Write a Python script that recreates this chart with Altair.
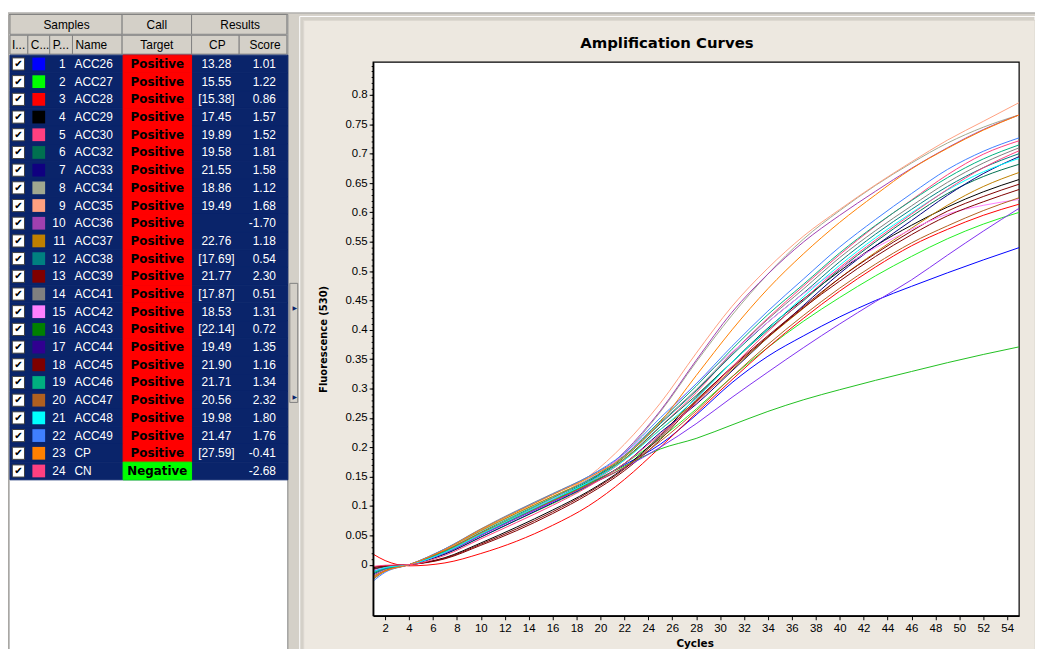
import altair as alt
import pandas as pd

# ---------------- data ----------------
cycles = [1, 2, 4, 7, 10, 13, 16, 19, 22, 25, 28, 31, 34, 37, 40, 43, 46, 49, 52, 55]
positions = list(range(1, 25))
names = ["ACC26", "ACC27", "ACC28", "ACC29", "ACC30", "ACC32", "ACC33", "ACC34",
         "ACC35", "ACC36", "ACC37", "ACC38", "ACC39", "ACC41", "ACC42", "ACC43",
         "ACC44", "ACC45", "ACC46", "ACC47", "ACC48", "ACC49", "CP", "CN"]
calls = ["Positive"] * 23 + ["Negative"]
cp_values = ["13.28", "15.55", "[15.38]", "17.45", "19.89", "19.58", "21.55", "18.86",
             "19.49", "", "22.76", "[17.69]", "21.77", "[17.87]", "18.53", "[22.14]",
             "19.49", "21.90", "21.71", "20.56", "19.98", "21.47", "[27.59]", ""]
scores = ["1.01", "1.22", "0.86", "1.57", "1.52", "1.81", "1.58", "1.12", "1.68", "-1.70",
          "1.18", "0.54", "2.30", "0.51", "1.31", "0.72", "1.35", "1.16", "1.34", "2.32",
          "1.80", "1.76", "-0.41", "-2.68"]
swatch_colors = ["#0000FF", "#00FF00", "#FF0000", "#000000", "#FF4080", "#007050", "#100080",
                 "#A0A890", "#FFA080", "#A040B0", "#C08000", "#008080", "#800000", "#808080",
                 "#FF80FF", "#008000", "#300090", "#7F0000", "#00B080", "#B06020", "#00FFFF",
                 "#4080FF", "#FF8000", "#FF4080"]
line_colors = ["#0000FF", "#22EE22", "#FF0000", "#000000", "#FF4080", "#007050", "#000080",
               "#A0A890", "#FFA080", "#A040B0", "#C08000", "#008080", "#800000", "#808080",
               "#FF80FF", "#20C020", "#8030F0", "#800000", "#00B080", "#B06020", "#00FFFF",
               "#4080FF", "#FF8000", "#FF4080"]

curves = [
    [-0.008, -0.004, 0, 0.020, 0.050, 0.080, 0.108, 0.137, 0.170, 0.205, 0.255, 0.310, 0.355, 0.390, 0.422, 0.450, 0.474, 0.497, 0.519, 0.540],
    [-0.012, -0.005, 0, 0.018, 0.047, 0.076, 0.104, 0.134, 0.172, 0.215, 0.265, 0.320, 0.370, 0.415, 0.455, 0.492, 0.525, 0.555, 0.580, 0.600],
    [0.018, 0.007, -0.002, 0.003, 0.019, 0.040, 0.067, 0.100, 0.145, 0.200, 0.258, 0.315, 0.370, 0.420, 0.466, 0.507, 0.543, 0.571, 0.595, 0.614],
    [-0.005, -0.002, 0, 0.012, 0.037, 0.064, 0.093, 0.125, 0.165, 0.220, 0.285, 0.345, 0.403, 0.453, 0.500, 0.543, 0.578, 0.609, 0.635, 0.656],
    [-0.012, -0.006, 0, 0.020, 0.050, 0.080, 0.108, 0.138, 0.178, 0.235, 0.293, 0.360, 0.420, 0.475, 0.528, 0.577, 0.621, 0.664, 0.699, 0.722],
    [-0.010, -0.005, 0, 0.020, 0.051, 0.081, 0.110, 0.140, 0.180, 0.235, 0.288, 0.345, 0.400, 0.450, 0.503, 0.550, 0.593, 0.632, 0.661, 0.682],
    [-0.016, -0.007, 0, 0.018, 0.047, 0.076, 0.105, 0.135, 0.172, 0.225, 0.273, 0.330, 0.387, 0.442, 0.496, 0.543, 0.586, 0.629, 0.666, 0.695],
    [-0.022, -0.010, 0, 0.024, 0.057, 0.087, 0.116, 0.146, 0.190, 0.260, 0.345, 0.425, 0.495, 0.555, 0.603, 0.646, 0.684, 0.718, 0.745, 0.766],
    [-0.010, -0.004, 0, 0.022, 0.053, 0.083, 0.113, 0.150, 0.205, 0.275, 0.360, 0.440, 0.505, 0.560, 0.605, 0.647, 0.686, 0.723, 0.755, 0.787],
    [-0.018, -0.008, 0, 0.020, 0.050, 0.079, 0.107, 0.140, 0.192, 0.262, 0.348, 0.430, 0.495, 0.550, 0.595, 0.636, 0.675, 0.710, 0.741, 0.766],
    [-0.025, -0.011, 0, 0.026, 0.058, 0.088, 0.116, 0.144, 0.180, 0.230, 0.278, 0.332, 0.387, 0.437, 0.488, 0.532, 0.573, 0.612, 0.644, 0.668],
    [-0.008, -0.004, 0, 0.021, 0.052, 0.083, 0.112, 0.142, 0.183, 0.240, 0.296, 0.357, 0.413, 0.463, 0.516, 0.563, 0.605, 0.644, 0.676, 0.700],
    [-0.004, -0.002, 0, 0.010, 0.033, 0.058, 0.087, 0.120, 0.160, 0.213, 0.278, 0.337, 0.390, 0.440, 0.488, 0.530, 0.568, 0.602, 0.627, 0.648],
    [-0.024, -0.011, 0, 0.027, 0.061, 0.092, 0.121, 0.150, 0.186, 0.242, 0.298, 0.360, 0.418, 0.470, 0.523, 0.569, 0.611, 0.651, 0.684, 0.710],
    [-0.010, -0.005, 0, 0.021, 0.052, 0.082, 0.112, 0.145, 0.188, 0.245, 0.308, 0.362, 0.413, 0.462, 0.504, 0.540, 0.571, 0.597, 0.612, 0.622],
    [-0.014, -0.006, 0, 0.022, 0.052, 0.081, 0.109, 0.138, 0.168, 0.197, 0.215, 0.238, 0.261, 0.281, 0.298, 0.314, 0.329, 0.344, 0.358, 0.371],
    [-0.012, -0.006, 0, 0.020, 0.050, 0.079, 0.107, 0.135, 0.165, 0.200, 0.240, 0.285, 0.328, 0.370, 0.410, 0.448, 0.485, 0.527, 0.568, 0.607],
    [-0.007, -0.003, 0, 0.011, 0.035, 0.061, 0.090, 0.123, 0.163, 0.217, 0.280, 0.335, 0.388, 0.438, 0.483, 0.525, 0.562, 0.594, 0.618, 0.639],
    [-0.015, -0.007, 0, 0.023, 0.055, 0.085, 0.114, 0.144, 0.185, 0.245, 0.304, 0.367, 0.426, 0.478, 0.531, 0.578, 0.620, 0.659, 0.691, 0.715],
    [-0.020, -0.010, 0, 0.024, 0.054, 0.082, 0.109, 0.136, 0.166, 0.210, 0.262, 0.320, 0.375, 0.425, 0.471, 0.512, 0.548, 0.577, 0.603, 0.625],
    [-0.012, -0.005, 0, 0.021, 0.052, 0.082, 0.111, 0.140, 0.178, 0.230, 0.283, 0.345, 0.402, 0.457, 0.510, 0.557, 0.599, 0.638, 0.669, 0.692],
    [-0.028, -0.013, 0, 0.027, 0.060, 0.091, 0.120, 0.150, 0.190, 0.250, 0.308, 0.372, 0.432, 0.487, 0.541, 0.588, 0.632, 0.673, 0.704, 0.727],
    [-0.022, -0.011, 0, 0.026, 0.060, 0.090, 0.119, 0.148, 0.184, 0.243, 0.322, 0.400, 0.470, 0.530, 0.583, 0.630, 0.674, 0.709, 0.740, 0.766],
    [-0.003, -0.001, 0, 0.016, 0.044, 0.072, 0.101, 0.133, 0.172, 0.222, 0.275, 0.337, 0.397, 0.452, 0.506, 0.553, 0.597, 0.639, 0.676, 0.705],
]

x_ticks = [2, 4, 6, 8, 10, 12, 14, 16, 18, 20, 22, 24, 26, 28, 30, 32, 34, 36, 38, 40,
           42, 44, 46, 48, 50, 52, 54]
y_ticks = [0, 0.05, 0.1, 0.15, 0.2, 0.25, 0.3, 0.35, 0.4, 0.45, 0.5, 0.55, 0.6, 0.65,
           0.7, 0.75, 0.8]
y_minor = [i / 100 for i in range(0, 86)]

# ---------------- layout helpers ----------------
W, H = 651, 558
OX, OY = 376, 60          # plot origin in screenshot coordinates
NAVY = "#0A246A"
GRAY = "#D4D0C8"
BEIGE = "#EDE8E0"


def px(x):
    return x - OX


def py(y):
    return y - OY


one = pd.DataFrame({"k": [0]})


def box(x1, y1, x2, y2, fill, stroke=None, sw=1.0):
    kw = {"fill": fill}
    if stroke:
        kw.update(stroke=stroke, strokeWidth=sw)
    else:
        kw.update(strokeWidth=0)
    return alt.Chart(one).mark_rect(**kw).encode(
        x=alt.value(px(x1)), x2=alt.value(px(x2)),
        y=alt.value(py(y1)), y2=alt.value(py(y2)))


def label(x, y, text, size=12, font="Liberation Sans", weight="normal",
          color="black", align="center"):
    return alt.Chart(one).mark_text(
        text=text, font=font, fontSize=size, fontWeight=weight, color=color,
        align=align, baseline="middle").encode(x=alt.value(px(x)), y=alt.value(py(y)))


# ---------------- window chrome ----------------
chrome = [
    box(8, 10, 1043, 657, GRAY),
    box(8, 10, 1043, 11, "#A0A0A0"),
    box(9, 12, 290, 657, "white", "#808080"),
    box(302, 14, 1043, 657, GRAY, "white"),
    box(306, 18, 1043, 657, BEIGE, "#DCD8D0"),
    box(292, 283, 300, 403, GRAY, "#808080"),
    label(297, 308, "▶", size=6, font="DejaVu Sans", color=NAVY),
    label(297, 398, "▶", size=6, font="DejaVu Sans", color=NAVY),
]

# header cells
hdr = [
    box(10, 12, 123, 32, GRAY, "#808080"), box(123, 12, 193, 32, GRAY, "#808080"),
    box(193, 12, 289, 32, GRAY, "#808080"),
    box(10, 33, 28, 52, GRAY, "#808080"), box(28, 33, 50, 52, GRAY, "#808080"),
    box(50, 33, 73, 52, GRAY, "#808080"), box(73, 33, 123, 52, GRAY, "#808080"),
    box(123, 33, 193, 52, GRAY, "#808080"), box(193, 33, 241, 52, GRAY, "#808080"),
    box(241, 33, 289, 52, GRAY, "#808080"),
    label(67, 22.5, "Samples"), label(158, 22.5, "Call"), label(242, 22.5, "Results"),
    label(12, 43, "I...", align="left"), label(31, 43, "C...", align="left"),
    label(53, 43, "P...", align="left"), label(76, 43, "Name", align="left"),
    label(158, 43, "Target"), label(219, 43, "CP"), label(267, 43, "Score"),
]

# ---------------- table ----------------
rows = pd.DataFrame({"pos": positions, "name": names, "call": calls, "cp": cp_values,
                     "score": scores, "swatch": swatch_colors})
rows["top"] = rows["pos"] - 1
rows["bot"] = rows["pos"]
rows["mid"] = rows["pos"] - 0.5
rows["call_color"] = ["#FF0000" if c == "Positive" else "#00FF00" for c in calls]

tys = alt.Scale(domain=[0, 24], range=[py(53), py(481)], zero=False, nice=False)
Y_top = alt.Y("top:Q", scale=tys, axis=None)
Y_mid = alt.Y("mid:Q", scale=tys, axis=None)
tb = alt.Chart(rows)
txt = dict(font="Liberation Sans", fontSize=12, color="white", baseline="middle")

table = alt.layer(
    tb.mark_rect(fill=NAVY, stroke=NAVY, strokeWidth=1).encode(
        x=alt.value(px(10)), x2=alt.value(px(290)), y=Y_top, y2="bot:Q"),
    tb.mark_rect(strokeWidth=1).encode(
        x=alt.value(px(124)), x2=alt.value(px(193)), y=Y_top, y2="bot:Q",
        fill=alt.Fill("call_color:N", scale=None),
        stroke=alt.Stroke("call_color:N", scale=None)),
    tb.mark_square(size=150, fill="white", stroke="#404040", strokeWidth=1,
                   opacity=1).encode(x=alt.value(px(18.5)), y=Y_mid),
    tb.mark_text(text="✔", font="DejaVu Sans", fontSize=10, color="black",
                 baseline="middle").encode(x=alt.value(px(18.5)), y=Y_mid),
    tb.mark_square(size=165, opacity=1, strokeWidth=0).encode(
        x=alt.value(px(39)), y=Y_mid, fill=alt.Fill("swatch:N", scale=None)),
    tb.mark_text(align="right", **txt).encode(x=alt.value(px(66)), y=Y_mid,
                                               text="pos:Q"),
    tb.mark_text(align="left", **txt).encode(x=alt.value(px(75)), y=Y_mid,
                                              text="name:N"),
    tb.mark_text(align="center", font="DejaVu Sans", fontSize=12, fontWeight="bold",
                 color="black", baseline="middle").encode(
        x=alt.value(px(158.5)), y=Y_mid, text="call:N"),
    tb.mark_text(align="center", **txt).encode(x=alt.value(px(218)), y=Y_mid,
                                                text="cp:N"),
    tb.mark_text(align="right", **txt).encode(x=alt.value(px(278)), y=Y_mid,
                                               text="score:N"),
)

# ---------------- amplification plot ----------------
long = pd.DataFrame([{"sample": n, "order": i, "cycle": c, "value": v}
                     for i, (n, curve) in enumerate(zip(names, curves))
                     for c, v in zip(cycles, curve)])

xs = alt.Scale(domain=[1, 55], nice=False, zero=False)
ys = alt.Scale(domain=[-0.087, 0.856], nice=False, zero=False)

x_axis = alt.Axis(orient="bottom", values=x_ticks, format="d", tickSize=4,
                  tickColor="black", domainColor="black", domainWidth=1.5,
                  labelFont="Liberation Sans", labelFontSize=11.5, labelColor="black",
                  labelPadding=3, labelFlush=False, labelOverlap=False, grid=False,
                  title="Cycles", titleFont="DejaVu Sans", titleFontWeight="bold",
                  titleFontSize=10.5, titleColor="black", titleX=324, titleY=28,
                  titleAlign="center", titleBaseline="middle", zindex=1)
y_axis = alt.Axis(orient="left", values=y_ticks, format="~g", tickSize=4,
                  tickColor="black", domainColor="black", domainWidth=1.5,
                  labelFont="Liberation Sans", labelFontSize=11.5, labelColor="black",
                  labelPadding=2, labelFlush=False, labelOverlap=False, grid=False,
                  title="Fluorescence (530)", titleFont="DejaVu Sans",
                  titleFontWeight="bold", titleFontSize=10, titleColor="black",
                  titleAngle=270, titleX=-50, titleY=279, titleAlign="center",
                  titleBaseline="middle", zindex=1)
y_minor_axis = alt.Axis(orient="left", values=y_minor, tickSize=2, tickColor="black",
                        labels=False, domain=False, grid=False, title=None, zindex=1)

frame = box(376, 60, 1027, 618, "white", "black", 1.2)

lines = alt.Chart(long).mark_line(strokeWidth=1, interpolate="monotone", clip=True).encode(
    x=alt.X("cycle:Q", scale=xs, axis=x_axis),
    y=alt.Y("value:Q", scale=ys, axis=y_axis),
    color=alt.Color("sample:N", scale=alt.Scale(domain=names, range=line_colors),
                    legend=None),
    order="cycle:Q",
)
minor = alt.Chart(long).mark_point(opacity=0).encode(
    x=alt.value(0), y=alt.Y("value:Q", scale=ys, axis=y_minor_axis))
plot = alt.layer(lines, minor).resolve_axis(y="independent")

title = label(672, 41, "Amplification Curves", size=15, font="DejaVu Sans",
              weight="bold")

chart = alt.layer(*chrome, *hdr, table, frame, plot, title).resolve_scale(
    x="independent", y="independent"
).properties(
    width=W, height=H,
    padding={"left": 368, "top": 52, "right": 16, "bottom": 31},
    autosize=alt.AutoSizeParams(type="none"),
    background="white",
).configure_view(stroke=None)

chart.save("out.html", embed_options={"renderer": "svg", "actions": False})
